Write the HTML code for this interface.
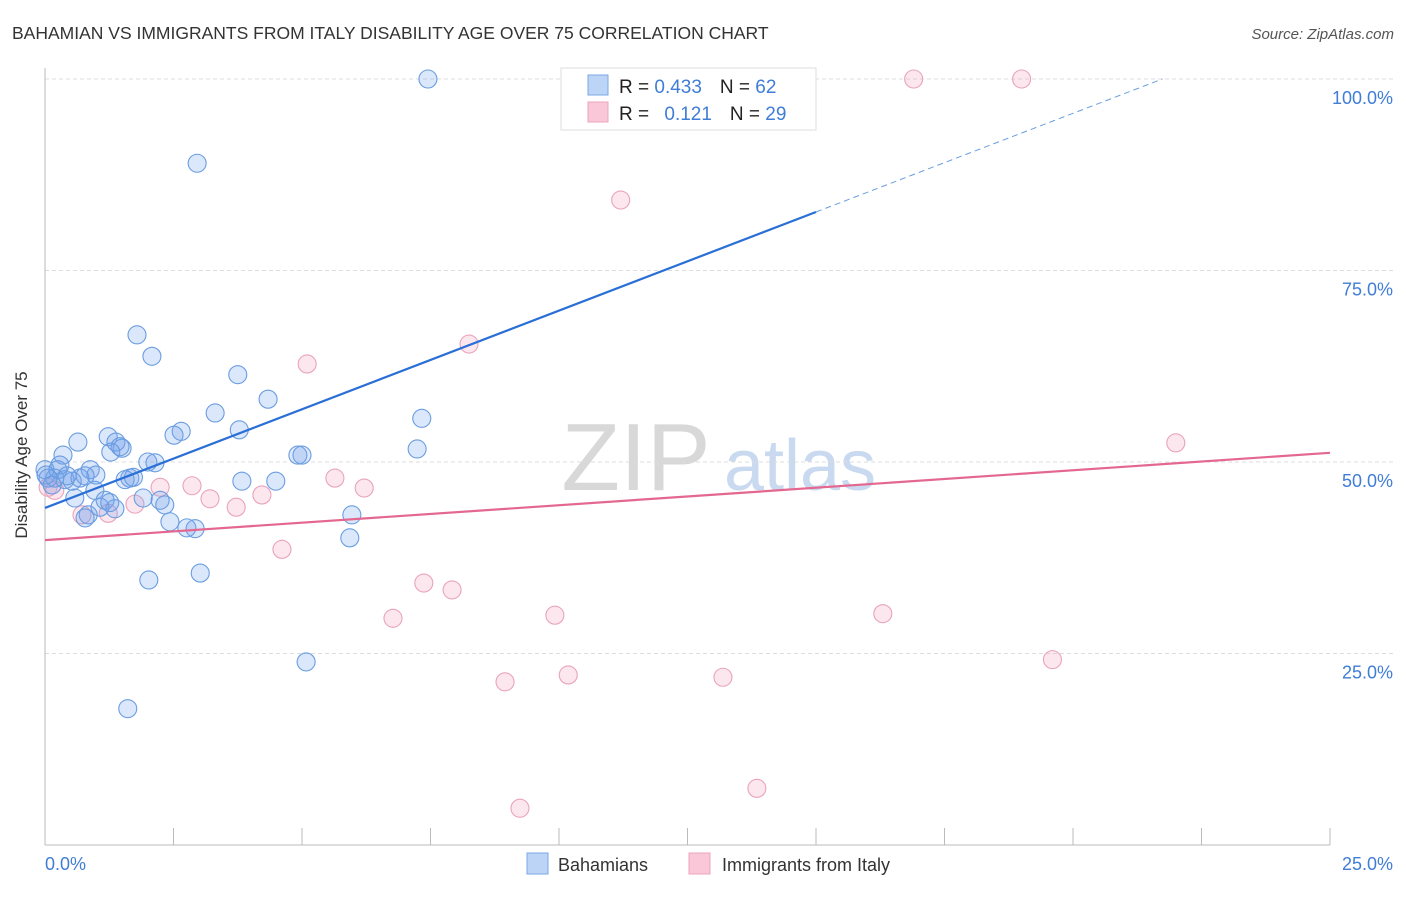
<!DOCTYPE html>
<html><head><meta charset="utf-8"><style>
body{margin:0;background:#fff;font-family:"Liberation Sans",sans-serif}
svg text{font-family:"Liberation Sans",sans-serif}
</style></head><body>
<svg id="c" width="1406" height="892" xmlns="http://www.w3.org/2000/svg">
<text x="12" y="39" font-size="17.5" fill="#333">BAHAMIAN VS IMMIGRANTS FROM ITALY DISABILITY AGE OVER 75 CORRELATION CHART</text>
<text x="1394" y="39" font-size="15" fill="#555" font-style="italic" text-anchor="end">Source: ZipAtlas.com</text>
<text x="636" y="490" font-size="96" fill="#d8d8d8" font-family="Liberation Serif" text-anchor="middle">ZIP</text>
<text x="800" y="490" font-size="72" fill="#c9d9ef" text-anchor="middle">atlas</text>
<g id="grid"></g>
<line x1="45" y1="68" x2="45" y2="845" stroke="#bbb"/>
<line x1="45" y1="845" x2="1330" y2="845" stroke="#bbb"/>
<g id="xt"></g>
<text x="27" y="455" font-size="17" fill="#333" text-anchor="middle" transform="rotate(-90 27 455)">Disability Age Over 75</text>
<text x="45" y="870" font-size="18" fill="#3f7dd6">0.0%</text>
<text x="1393" y="870" font-size="18" fill="#3f7dd6" text-anchor="end">25.0%</text>
<g id="pts"></g>
<g id="lines"></g>
<g>
<rect x="561" y="68" width="255" height="62" fill="#fff" stroke="#ddd"/>
<rect x="588" y="75" width="20" height="20" fill="#bcd4f5" stroke="#7aa7e6"/>
<rect x="588" y="102" width="20" height="20" fill="#f9c7d7" stroke="#eba5bd"/>
<text x="619" y="93" font-size="19" fill="#222">R = <tspan fill="#3f7dd6">0.433</tspan><tspan dx="18">N = </tspan><tspan fill="#3f7dd6">62</tspan></text>
<text x="619" y="120" font-size="19" fill="#222">R = <tspan dx="10" fill="#3f7dd6">0.121</tspan><tspan dx="18">N = </tspan><tspan fill="#3f7dd6">29</tspan></text>
</g>
<rect x="527" y="853" width="21" height="21" fill="#bcd4f5" stroke="#7aa7e6"/>
<text x="558" y="871" font-size="18" fill="#333">Bahamians</text>
<rect x="689" y="853" width="21" height="21" fill="#f9c7d7" stroke="#eba5bd"/>
<text x="722" y="871" font-size="18" fill="#333">Immigrants from Italy</text>
</svg>
<script>
const yTicks=[25,50,75,100];
const yTickLabels=["25.0%","50.0%","75.0%","100.0%"];
const xTickCount=10;
const blueX=[7.45,2.96,1.79,2.08,3.75,4.34,3.31,7.33,3.78,2.65,2.51,1.23,0.64,1.38,1.50,1.28,0.35,4.92,5.0,7.24,2.14,2.0,0.29,0.88,0.99,0.68,0.06,0.19,0.39,0.53,1.65,1.56,3.83,4.49,0.14,0.97,0.58,1.91,1.17,2.24,2.33,1.07,1.36,0.84,0.78,5.97,2.43,2.76,2.92,5.93,2.02,3.02,5.08,1.61,0.25,0.43,1.26,0.0,1.46,0.78,1.72,0.02];
const blueY=[100,89.0,66.6,63.8,61.4,58.2,56.4,55.7,54.2,54.0,53.5,53.3,52.6,52.6,51.8,51.3,50.9,50.9,50.9,51.7,49.9,50.0,49.6,49.0,48.3,47.9,47.9,47.9,47.7,47.5,47.9,47.7,47.5,47.5,47.0,46.3,45.3,45.3,45.0,45.0,44.4,44.1,43.9,43.1,42.7,43.1,42.2,41.4,41.3,40.1,34.6,35.5,23.9,17.8,49.0,48.2,44.7,49.0,52.0,48.2,48.0,48.3];
const pinkX=[16.9,19.0,11.2,8.25,5.1,22.0,5.64,6.21,2.86,2.24,3.21,4.22,3.72,1.75,1.23,0.72,0.06,0.19,4.61,7.37,7.92,6.77,9.92,16.3,19.6,10.18,13.19,8.95,9.24,13.85];
const pinkY=[100,100,84.2,65.4,62.8,52.5,47.9,46.6,46.9,46.7,45.2,45.7,44.1,44.5,43.3,43.1,46.7,46.3,38.6,34.2,33.3,29.6,30.0,30.2,24.2,22.2,21.9,21.3,4.8,7.4];
const blueFit=[44.0,2.576];
const pinkFit=[39.8,0.456];
const NS="http://www.w3.org/2000/svg";
const sx=v=>45+v/25*1285, sy=v=>845-v/100*766;
function mk(t,a,p){const e=document.createElementNS(NS,t);for(const k in a)e.setAttribute(k,a[k]);document.getElementById(p).appendChild(e);return e;}
yTicks.forEach((t,i)=>{
 const l=mk('line',{x1:45,x2:1394,y1:sy(t),y2:sy(t),stroke:'#ddd','stroke-dasharray':'4,3'},'grid');
 
 
 const tx=mk('text',{x:1393,y:sy(t)+25,'font-size':18,fill:'#3f7dd6','text-anchor':'end'},'grid');
 tx.textContent=yTickLabels[i];
 
 
});
for(let i=0;i<=xTickCount;i++){
 const x=sx(i*25/xTickCount);
 const l=mk('line',{x1:x,x2:x,y1:828,y2:845,stroke:'#bbb'},'xt');
 
 
}
function dots(X,Y,fill,stroke,name){X.forEach((v,i)=>{
 const c=mk('circle',{cx:sx(v),cy:sy(Y[i]),r:9,fill:fill,stroke:stroke,'stroke-width':1.1},'pts');
 
 
});}
dots(pinkX,pinkY,'rgba(244,160,190,0.25)','#e9a3bb','point-italy');
dots(blueX,blueY,'rgba(110,160,235,0.25)','#6a9de0','point-bahamians');
const bx2=15, bxEnd=(100-blueFit[0])/blueFit[1];
let l=mk('line',{x1:sx(0),y1:sy(blueFit[0]),x2:sx(bx2),y2:sy(blueFit[0]+blueFit[1]*bx2),stroke:'#2a6fd6','stroke-width':2.2},'lines');


l=mk('line',{x1:sx(bx2),y1:sy(blueFit[0]+blueFit[1]*bx2),x2:sx(bxEnd),y2:sy(100),stroke:'#6a9de0','stroke-width':1,'stroke-dasharray':'6,4'},'lines');


l=mk('line',{x1:sx(0),y1:sy(pinkFit[0]),x2:sx(25),y2:sy(pinkFit[0]+pinkFit[1]*25),stroke:'#e4678f','stroke-width':2.2},'lines');


</script>
</body></html>
